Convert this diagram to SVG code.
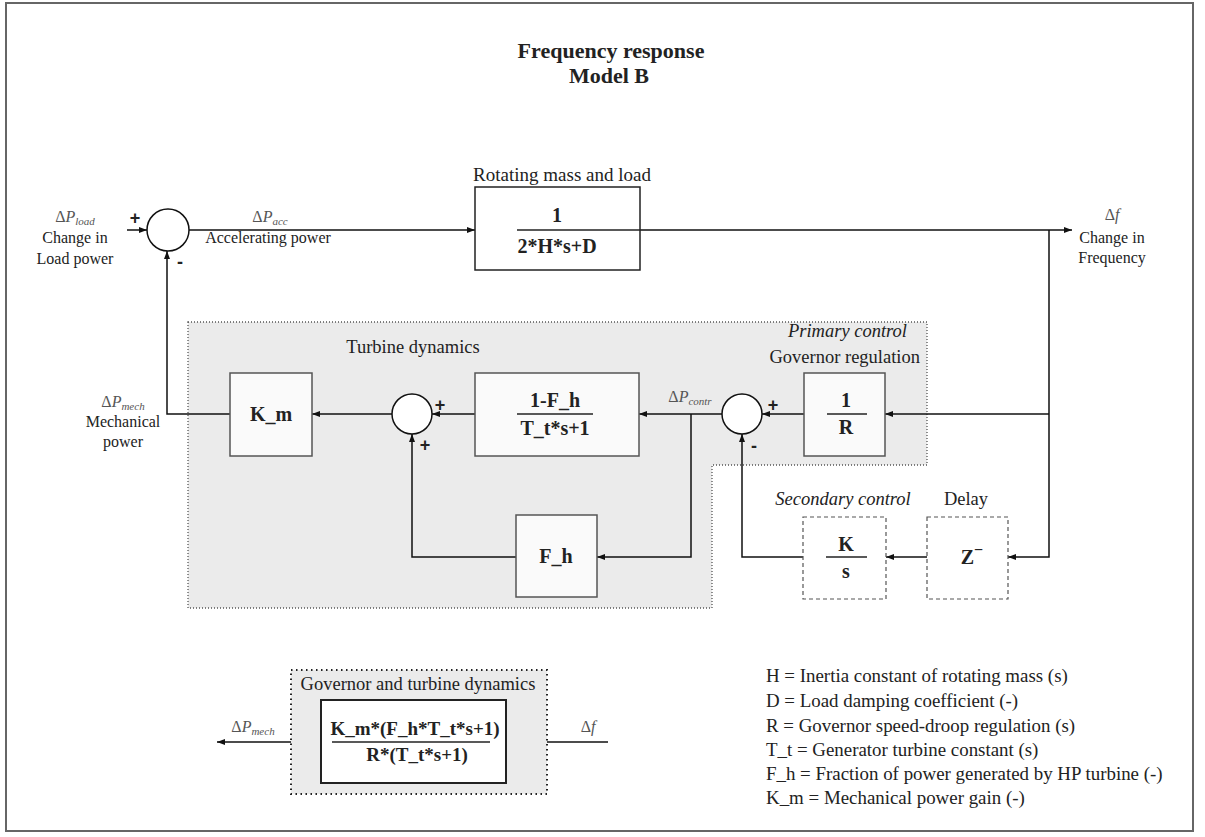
<svg xmlns="http://www.w3.org/2000/svg" width="1205" height="837" viewBox="0 0 1205 837">
<style>
text{font-family:"Liberation Serif","Times New Roman",serif;fill:#222}
.t{font-size:18.5px}
.s{font-size:16px}
.i{font-style:italic}
.b{font-weight:bold;font-size:20px}
.b2{font-weight:bold;font-size:19px}
.m{font-size:16px;fill:#555}
.m .p{font-style:italic}
.m .sub{font-style:italic;font-size:11px}
.lg{font-size:18.9px}
.blk{fill:#fafafa;stroke:#555;stroke-width:1.5}
.dsh{fill:#fff;stroke:#555;stroke-width:1.2;stroke-dasharray:4,3}
.sum{fill:#fff;stroke:#111;stroke-width:1.5}
.frac{stroke:#222;stroke-width:1.5}
.w{fill:none;stroke:#111;stroke-width:1.5}
.reg{fill:#ebebeb;stroke:#555;stroke-width:1.3;stroke-dasharray:1,2}
.sign{font-family:"Liberation Sans",Arial,sans-serif;font-weight:bold;font-size:18px;fill:#222}
</style>
<defs>
<marker id="ar" markerWidth="8" markerHeight="6" refX="8" refY="3" orient="auto" markerUnits="userSpaceOnUse">
<path d="M0,0 L8,3 L0,6 z" fill="#111"/>
</marker>
</defs>
<rect x="6" y="3" width="1187" height="828" fill="#fff" stroke="#666" stroke-width="2"/>

<g id="title">
<text x="611" y="58" text-anchor="middle" style="font-weight:bold;font-size:22px">Frequency response</text>
<text x="609" y="83" text-anchor="middle" style="font-weight:bold;font-size:22px">Model B</text>
</g>

<g id="region-primary">
<polygon class="reg" points="188,322 927,322 927,465 712,465 712,608 188,608"/>
<text class="t" x="413" y="353" text-anchor="middle">Turbine dynamics</text>
<text class="t i" x="907" y="337" text-anchor="end">Primary control</text>
<text class="t" x="920" y="363" text-anchor="end">Governor regulation</text>
</g>

<g id="connectors">
<path class="w" d="M127,230 H147" marker-end="url(#ar)"/>
<path class="w" d="M189,230 H475" marker-end="url(#ar)"/>
<path class="w" d="M640,230 H1072" marker-end="url(#ar)"/>
<path class="w" d="M1049,230 V557 H1008" marker-end="url(#ar)"/>
<path class="w" d="M1049,414 H885" marker-end="url(#ar)"/>
<path class="w" d="M804,414 H762" marker-end="url(#ar)"/>
<path class="w" d="M722,414 H639" marker-end="url(#ar)"/>
<path class="w" d="M691,414 V557 H597" marker-end="url(#ar)"/>
<path class="w" d="M516,557 H412 V434" marker-end="url(#ar)"/>
<path class="w" d="M475,414 H432" marker-end="url(#ar)"/>
<path class="w" d="M392,414 H312" marker-end="url(#ar)"/>
<path class="w" d="M230,414 H167 V251" marker-end="url(#ar)"/>
<path class="w" d="M927,557 H886" marker-end="url(#ar)"/>
<path class="w" d="M803,557 H742 V434" marker-end="url(#ar)"/>
<path class="w" d="M608,742 H506" marker-end="url(#ar)"/>
<path class="w" d="M321,742 H217" marker-end="url(#ar)"/>
</g>

<g id="sum1">
<circle class="sum" cx="168" cy="230" r="21"/>
<text class="sign" x="135" y="224" text-anchor="middle">+</text>
<text class="sign" x="180" y="268" text-anchor="middle">-</text>
</g>

<g id="label-load">
<text class="m" x="75" y="222" text-anchor="middle">Δ<tspan class="p">P</tspan><tspan class="sub" dy="3">load</tspan></text>
<text class="s" x="75" y="243" text-anchor="middle">Change in</text>
<text class="s" x="75" y="264" text-anchor="middle">Load power</text>
</g>

<g id="label-acc">
<text class="m" x="270" y="222" text-anchor="middle">Δ<tspan class="p">P</tspan><tspan class="sub" dy="3">acc</tspan></text>
<text class="s" x="268" y="243" text-anchor="middle">Accelerating power</text>
</g>

<g id="rotating-mass">
<text class="t" x="562" y="181" text-anchor="middle" style="font-size:19px">Rotating mass and load</text>
<rect x="475" y="187" width="165" height="83" fill="#fff" stroke="#222" stroke-width="1.5"/>
<text class="b" x="557" y="222" text-anchor="middle">1</text>
<line class="frac" x1="517" y1="230" x2="640" y2="230"/>
<text class="b" x="557" y="253" text-anchor="middle">2*H*s+D</text>
</g>

<g id="label-f">
<text class="m" x="1112" y="220" text-anchor="middle">Δ<tspan class="p">f</tspan></text>
<text class="s" x="1112" y="243" text-anchor="middle">Change in</text>
<text class="s" x="1112" y="263" text-anchor="middle">Frequency</text>
</g>

<g id="label-mech">
<text class="m" x="123" y="407" text-anchor="middle">Δ<tspan class="p">P</tspan><tspan class="sub" dy="3">mech</tspan></text>
<text class="s" x="123" y="427" text-anchor="middle">Mechanical</text>
<text class="s" x="123" y="447" text-anchor="middle">power</text>
</g>

<g id="km">
<rect class="blk" x="230" y="373" width="82" height="83"/>
<text class="b" x="271" y="421" text-anchor="middle">K_m</text>
</g>

<g id="sum2">
<circle class="sum" cx="412" cy="414" r="20"/>
<text class="sign" x="440" y="411" text-anchor="middle">+</text>
<text class="sign" x="425" y="451" text-anchor="middle">+</text>
</g>

<g id="turbine">
<rect class="blk" x="475" y="373" width="164" height="83"/>
<text class="b" x="555" y="407" text-anchor="middle">1-F_h</text>
<line class="frac" x1="517" y1="414" x2="593" y2="414"/>
<text class="b" x="555" y="435" text-anchor="middle">T_t*s+1</text>
</g>

<g id="label-contr">
<text class="m" x="690" y="402" text-anchor="middle">Δ<tspan class="p">P</tspan><tspan class="sub" dy="3">contr</tspan></text>
</g>

<g id="sum3">
<circle class="sum" cx="742" cy="414" r="20"/>
<text class="sign" x="773" y="411" text-anchor="middle">+</text>
<text class="sign" x="754" y="452" text-anchor="middle">-</text>
</g>

<g id="governor">
<rect class="blk" x="804" y="373" width="81" height="83"/>
<text class="b" x="846" y="407" text-anchor="middle">1</text>
<line class="frac" x1="827" y1="414" x2="867" y2="414"/>
<text class="b" x="846" y="434" text-anchor="middle">R</text>
</g>

<g id="fh">
<rect class="blk" x="516" y="515" width="81" height="82"/>
<text class="b" x="556" y="563" text-anchor="middle">F_h</text>
</g>

<g id="secondary">
<text class="t i" x="843" y="505" text-anchor="middle">Secondary control</text>
<rect class="dsh" x="803" y="517" width="83" height="82"/>
<text class="b" x="846" y="551" text-anchor="middle">K</text>
<line class="frac" x1="826" y1="557" x2="867" y2="557"/>
<text class="b" x="846" y="578" text-anchor="middle">s</text>
</g>

<g id="delay">
<text class="t" x="966" y="505" text-anchor="middle">Delay</text>
<rect class="dsh" x="927" y="517" width="81" height="82"/>
<text class="b" x="972" y="564" text-anchor="middle">Z<tspan dy="-9" style="font-size:16px">−</tspan></text>
</g>

<g id="equivalent">
<rect class="reg" x="291" y="670" width="256" height="124" style="stroke:#222;stroke-width:2;stroke-dasharray:1.5,3.5"/>
<text class="t" x="418" y="690" text-anchor="middle">Governor and turbine dynamics</text>
<rect x="321" y="700" width="185" height="83" fill="#fff" stroke="#222" stroke-width="2"/>
<text class="b2" x="415" y="735" text-anchor="middle">K_m*(F_h*T_t*s+1)</text>
<line class="frac" x1="332" y1="742" x2="490" y2="742"/>
<text class="b2" x="417" y="761" text-anchor="middle">R*(T_t*s+1)</text>
<text class="m" x="253" y="732" text-anchor="middle">Δ<tspan class="p">P</tspan><tspan class="sub" dy="3">mech</tspan></text>
<text class="m" x="588" y="732" text-anchor="middle">Δ<tspan class="p">f</tspan></text>
</g>

<g id="legend">
<text class="lg" x="766" y="682">H = Inertia constant of rotating mass (s)</text>
<text class="lg" x="766" y="707">D = Load damping coefficient (-)</text>
<text class="lg" x="766" y="732">R = Governor speed-droop regulation (s)</text>
<text class="lg" x="766" y="756">T_t = Generator turbine constant (s)</text>
<text class="lg" x="766" y="780">F_h = Fraction of power generated by HP turbine (-)</text>
<text class="lg" x="766" y="804">K_m = Mechanical power gain (-)</text>
</g>
</svg>
